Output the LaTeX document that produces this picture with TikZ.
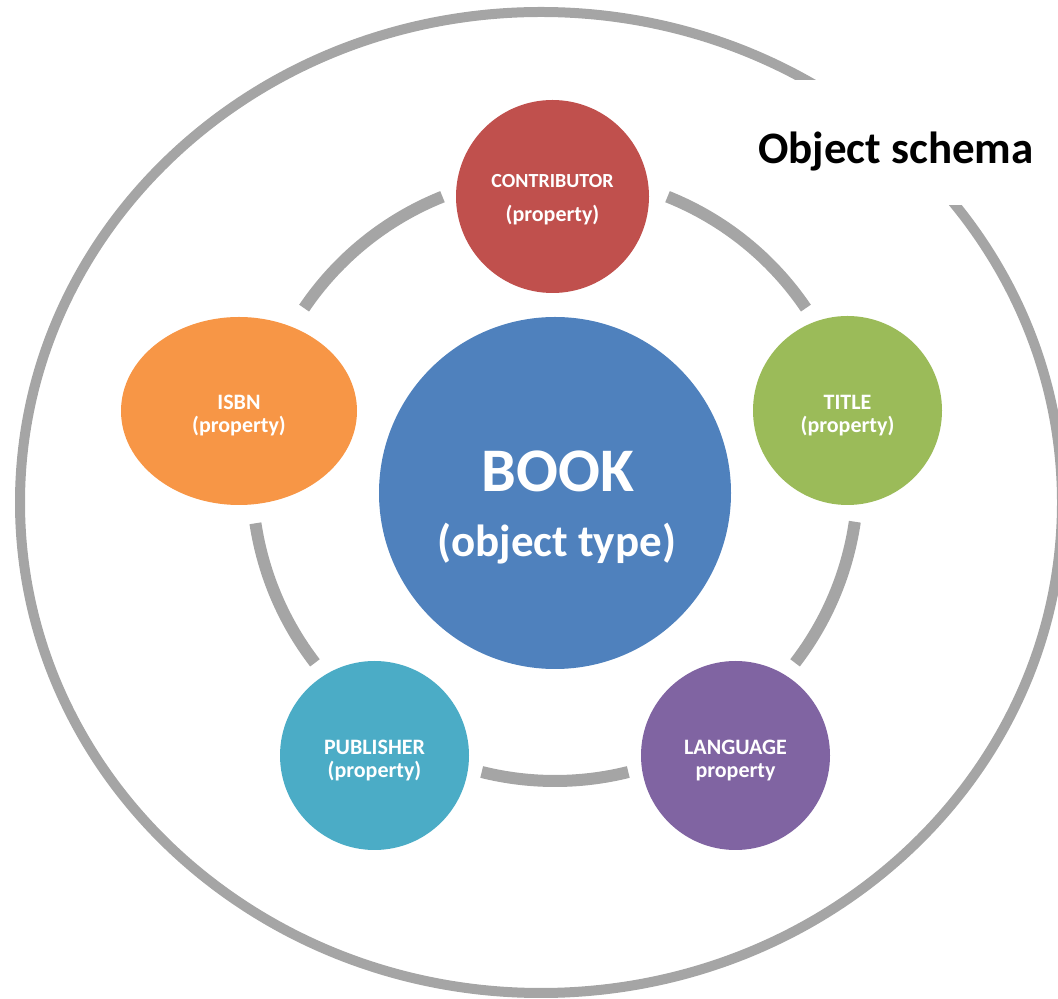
\documentclass[tikz,border=0pt]{standalone}
\usepackage{fontspec}
\setmainfont{Carlito}
\usetikzlibrary{shapes.geometric}
\definecolor{ringgray}{HTML}{A5A5A5}
\definecolor{bookblue}{HTML}{4F81BD}
\definecolor{contribred}{HTML}{C0504D}
\definecolor{titlegreen}{HTML}{9BBB59}
\definecolor{langpurple}{HTML}{8064A2}
\definecolor{pubcyan}{HTML}{4BACC6}
\definecolor{isbnorange}{HTML}{F79646}
\newcommand{\propstrut}[1]{\rule{0pt}{#1}}
\begin{document}
\begin{tikzpicture}[x=1pt,y=1pt,
    prop/.style={circle,minimum size=189pt,inner sep=0pt,align=center,
      text=white,font=\bfseries\fontsize{22}{23}\selectfont},
    ringarc/.style={draw=ringgray,line width=12pt}]
  \clip (0,0) rectangle (1058,999);
  % outer schema boundary
  \draw[ringgray,line width=10pt] (541,496.5) ellipse [x radius=521,y radius=490.5];
  \fill[white] (745,794) rectangle (1058,919);
  \node[font=\bfseries\fontsize{45}{50}\selectfont,anchor=base] (schema) at (896,835) {Object schema};
  % ring between the properties
  \coordinate (ring) at (555,521);
  \foreach \a/\b in {111.8/145.9, 34.1/68.2, -8.3/-37.6, -76/-104, 188.6/217.6}
    \draw[ringarc] (ring) ++(\a:303) arc[start angle=\a,end angle=\b,radius=303];
  % object type
  \node[circle,fill=bookblue,minimum size=352pt,inner sep=0pt] (book) at (555,506) {};
  \node[anchor=base,text=white,font=\bfseries\fontsize{62}{62}\selectfont] (booktitle) at (558,507) {BOOK};
  \node[anchor=base,text=white,font=\bfseries\fontsize{45}{45}\selectfont] (booktype) at (557,442) {(object type)};
  % properties
  \node[prop,fill=contribred,minimum size=193pt] (contrib) at (552.5,802.5)
    {{\fontsize{20}{22}\selectfont\propstrut{19pt}CONTRIBUTOR}\\[11pt](property)};
  \node[prop,fill=titlegreen] (title) at (847.5,588.5) {\propstrut{24pt}TITLE\\(property)};
  \node[prop,fill=langpurple] (lang) at (735.5,243.5) {\propstrut{24pt}LANGUAGE\\property};
  \node[prop,fill=pubcyan] (pub) at (374.5,243.5) {\propstrut{24pt}PUBLISHER\\(property)};
  \node[prop,ellipse,fill=isbnorange,minimum width=236pt,minimum height=188pt] (isbn) at (239,588)
    {\propstrut{24pt}ISBN\\(property)};
\end{tikzpicture}
\end{document}
